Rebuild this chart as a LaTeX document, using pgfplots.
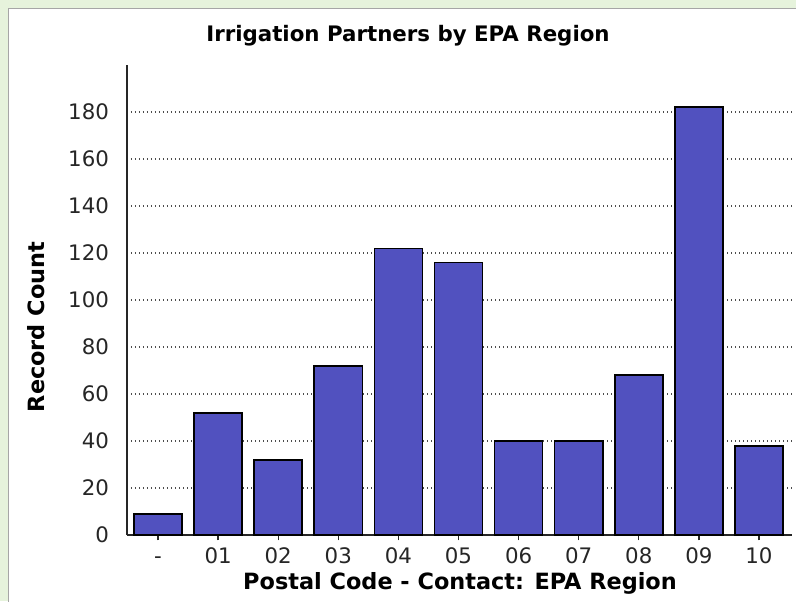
\documentclass[border=0pt]{standalone}
\usepackage{pgfplots}
\pgfplotsset{compat=1.18}
\usepackage{fontspec}
\setmainfont{DejaVu Sans}
\definecolor{barblue}{RGB}{81,81,191}
\definecolor{bggreen}{RGB}{230,243,220}
\pgfplotstableread{
x y
0 9
1 52
2 32
3 72
4 122
5 116
6 40
7 40
8 68
9 182
10 38
}\datatable
\begin{document}
\begin{tikzpicture}
\path[use as bounding box] (0,0) rectangle (597pt,450.75pt);
\fill[bggreen] (0,0) rectangle (597pt,450.75pt);
\fill[white,draw=gray!70,line width=1.2pt] (6.5pt,-5pt) rectangle (610pt,444.5pt);
\begin{axis}[
  at={(95.25pt,49.5pt)}, anchor=south west,
  scale only axis, width=498.75pt, height=352.5pt,
  xmin=-0.516, xmax=10.55, ymin=0, ymax=200,
  axis x line=bottom, axis y line=left,
  axis line style={-, line width=1.4pt, black!85},
  xtick={0,...,10},
  xticklabels={-,01,02,03,04,05,06,07,08,09,10},
  ytick={0,20,...,180},
  tick align=outside, major tick length=4pt,
  xtick style={line width=1pt, black!85},
  ytick style={draw=none},
  ymajorgrids,
  grid style={line width=1.1pt, black!70, dash pattern=on 1.1pt off 1.9pt},
  ticklabel style={font=\fontsize{16}{16}\selectfont, text=black!85},
  yticklabel style={xshift=-6pt},
  xticklabel style={yshift=-2pt, text height=11.7pt, text depth=0pt},
  /pgf/number format/assume math mode=true,
]
\addplot[ybar, bar width=0.8, fill=barblue, draw=black, line width=1.2pt] table[x=x,y=y] {\datatable};
\end{axis}
\node[font=\bfseries\fontsize{16}{16}\selectfont] at (306pt,423.75pt) {Irrigation Partners by EPA Region};
\node[font=\bfseries\fontsize{16.8}{17}\selectfont] at (345pt,13.5pt) {Postal Code - Contact: EPA Region};
\node[font=\bfseries\fontsize{16.8}{17}\selectfont, rotate=90] at (27pt,205.5pt) {Record Count};
\end{tikzpicture}
\end{document}
